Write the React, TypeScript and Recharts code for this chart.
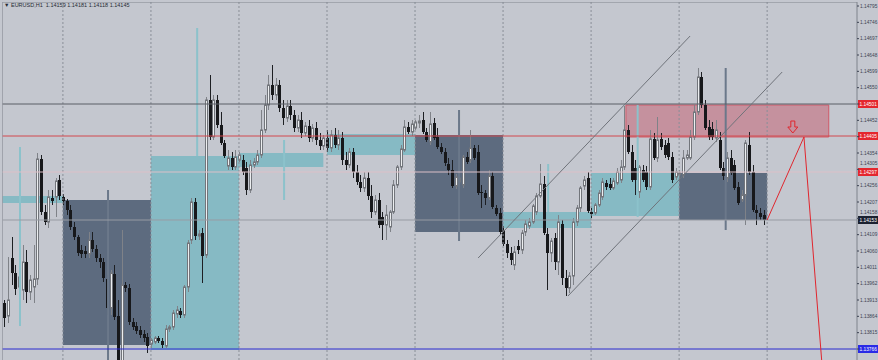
import React from 'react';
import { ComposedChart, Bar, XAxis, YAxis, ReferenceArea, ReferenceLine, ReferenceDot } from 'recharts';

const opens = [
1.13904,1.13865,1.14039,1.13994,1.13952,1.13943,1.14027,1.13937,1.13952,1.13976,
1.14336,1.14177,1.14147,1.14219,1.14222,1.14273,1.14222,1.14210,1.14183,1.14132,
1.14102,1.14063,1.14060,1.14051,1.14093,1.14066,1.14039,1.14027,1.13976,1.13889,
1.13991,1.13865,1.13718,1.13958,1.13949,1.13847,1.13835,1.13823,1.13811,1.13802,
1.13781,1.13787,1.13799,1.13790,1.13775,1.13826,1.13832,1.13871,1.13880,1.13868,
1.13952,1.14093,1.14207,1.14105,1.14114,1.14048,1.14513,1.14402,1.14513,1.14438,
1.14384,1.14315,1.14339,1.14312,1.14333,1.14333,1.14309,1.14243,1.14318,1.14327,
1.14348,1.14423,1.14498,1.14558,1.14528,1.14558,1.14489,1.14459,1.14495,1.14468,
1.14429,1.14453,1.14414,1.14435,1.14399,1.14429,1.14393,1.14375,1.14399,1.14369,
1.14408,1.14378,1.14399,1.14333,1.14318,1.14357,1.14297,1.14267,1.14249,1.14279,
1.14225,1.14177,1.14213,1.14162,1.14138,1.14132,1.14177,1.14258,1.14312,1.14363,
1.14432,1.14417,1.14429,1.14444,1.14453,1.14417,1.14387,1.14444,1.14402,1.14372,
1.14357,1.14321,1.14303,1.14255,1.14267,1.14258,1.14342,1.14333,1.14369,1.14357,
1.14237,1.14234,1.14219,1.14285,1.14189,1.14174,1.14123,1.14081,1.14054,1.14018,
1.14075,1.14063,1.14117,1.14135,1.14147,1.14177,1.14225,1.14261,1.14111,1.14054,
1.14099,1.14027,1.14141,1.13979,1.13949,1.13985,1.14147,1.14189,1.14255,1.14279,
1.14177,1.14174,1.14198,1.14222,1.14264,1.14261,1.14249,1.14264,1.14273,1.14312,
1.14423,1.14357,1.14309,1.14237,1.14303,1.14297,1.14252,1.14396,1.14339,1.14396,
1.14378,1.14384,1.14342,1.14282,1.14288,1.14288,1.14339,1.14339,1.14402,1.14477,
1.14582,1.14498,1.14432,1.14426,1.14399,1.14393,1.14309,1.14279,1.14339,1.14318,
1.14252,1.14213,1.14228,1.14378,1.14297,1.14183,1.14174,1.14168];

const highs = [
1.13913,1.14042,1.14102,1.14018,1.14003,1.14078,1.14063,1.13988,1.14078,1.14354,
1.14348,1.14198,1.14243,1.14243,1.14279,1.14288,1.14231,1.14216,1.14198,1.14147,
1.14108,1.14078,1.14075,1.14117,1.14117,1.14078,1.14051,1.14039,1.13988,1.14003,
1.14018,1.13913,1.14123,1.13967,1.13961,1.13859,1.13847,1.13835,1.13823,1.13814,
1.13799,1.13805,1.13805,1.13799,1.13838,1.13838,1.13883,1.13895,1.13889,1.13958,
1.14093,1.14219,1.14219,1.14123,1.14129,1.14522,1.14588,1.14528,1.14528,1.14477,
1.14393,1.14363,1.14357,1.14363,1.14357,1.14348,1.14327,1.14333,1.14339,1.14363,
1.14483,1.14528,1.14588,1.14618,1.14579,1.14573,1.14513,1.14513,1.14513,1.14483,
1.14468,1.14477,1.14447,1.14453,1.14441,1.14447,1.14414,1.14408,1.14423,1.14423,
1.14429,1.14423,1.14417,1.14357,1.14369,1.14369,1.14318,1.14288,1.14297,1.14297,
1.14258,1.14228,1.14234,1.14177,1.14198,1.14183,1.14273,1.14318,1.14378,1.14453,
1.14447,1.14453,1.14453,1.14468,1.14477,1.14429,1.14477,1.14459,1.14429,1.14384,
1.14369,1.14339,1.14333,1.14291,1.14285,1.14348,1.14357,1.14423,1.14378,1.14378,
1.14258,1.14243,1.14303,1.14297,1.14198,1.14189,1.14135,1.14093,1.14072,1.14075,
1.14093,1.14123,1.14153,1.14159,1.14201,1.14234,1.14321,1.14285,1.14129,1.14099,
1.14114,1.14168,1.14153,1.14003,1.13997,1.14159,1.14198,1.14255,1.14285,1.14297,
1.14189,1.14204,1.14243,1.14279,1.14273,1.14279,1.14279,1.14309,1.14333,1.14495,
1.14438,1.14378,1.14333,1.14318,1.14318,1.14315,1.14423,1.14414,1.14462,1.14414,
1.14393,1.14399,1.14357,1.14309,1.14303,1.14363,1.14363,1.14423,1.14498,1.14609,
1.14597,1.14513,1.14453,1.14447,1.14453,1.14417,1.14327,1.14357,1.14363,1.14333,
1.14267,1.14243,1.14393,1.14417,1.14318,1.14198,1.14189,1.14183];

const lows = [
1.13832,1.13844,1.13958,1.13928,1.13838,1.13913,1.13904,1.13913,1.13904,1.13958,
1.14168,1.14138,1.14129,1.14198,1.14162,1.14213,1.14198,1.14168,1.14123,1.14093,
1.14045,1.14039,1.14039,1.14039,1.14057,1.14027,1.14009,1.13967,1.13868,1.13868,
1.13853,1.13703,1.13697,1.13937,1.13838,1.13823,1.13811,1.13799,1.13787,1.13754,
1.13769,1.13781,1.13784,1.13769,1.13769,1.13817,1.13823,1.13859,1.13859,1.13859,
1.13937,1.14081,1.14093,1.14093,1.13964,1.14039,1.14393,1.14393,1.14429,1.14378,
1.14339,1.14303,1.14303,1.14303,1.14327,1.14288,1.14228,1.14234,1.14309,1.14318,
1.14339,1.14414,1.14483,1.14513,1.14513,1.14477,1.14438,1.14447,1.14453,1.14417,
1.14417,1.14399,1.14405,1.14387,1.14387,1.14378,1.14363,1.14363,1.14357,1.14357,
1.14369,1.14363,1.14318,1.14303,1.14309,1.14279,1.14258,1.14237,1.14237,1.14213,
1.14159,1.14168,1.14129,1.14093,1.14093,1.14117,1.14171,1.14249,1.14303,1.14357,
1.14411,1.14405,1.14423,1.14429,1.14411,1.14387,1.14378,1.14393,1.14366,1.14351,
1.14315,1.14288,1.14249,1.14246,1.14252,1.14249,1.14321,1.14324,1.14333,1.14228,
1.14189,1.14198,1.14213,1.14186,1.14165,1.14111,1.14075,1.14039,1.14018,1.14003,
1.14051,1.14051,1.14105,1.14126,1.14141,1.14168,1.14219,1.14108,1.13943,1.14027,
1.14003,1.13988,1.13958,1.13925,1.13934,1.13958,1.14135,1.14177,1.14243,1.14174,
1.14159,1.14168,1.14192,1.14213,1.14243,1.14243,1.14243,1.14258,1.14264,1.14303,
1.14351,1.14267,1.14228,1.14219,1.14267,1.14243,1.14243,1.14333,1.14327,1.14363,
1.14339,1.14333,1.14264,1.14273,1.14279,1.14279,1.14333,1.14333,1.14393,1.14468,
1.14489,1.14423,1.14393,1.14393,1.14387,1.14303,1.14273,1.14267,1.14288,1.14243,
1.14198,1.14207,1.14138,1.14288,1.14177,1.14138,1.14153,1.14138];

const closes = [
1.13859,1.13913,1.13994,1.13946,1.13982,1.14027,1.13937,1.13973,1.13976,1.14336,
1.14177,1.14147,1.14222,1.14210,1.14270,1.14225,1.14210,1.14183,1.14132,1.14102,
1.14054,1.14051,1.14051,1.14093,1.14066,1.14039,1.14027,1.13979,1.13889,1.13994,
1.13862,1.13718,1.13958,1.13949,1.13847,1.13832,1.13820,1.13808,1.13799,1.13775,
1.13793,1.13799,1.13790,1.13778,1.13826,1.13832,1.13874,1.13883,1.13868,1.13952,
1.14084,1.14207,1.14105,1.14111,1.14045,1.14513,1.14402,1.14513,1.14438,1.14384,
1.14345,1.14339,1.14312,1.14342,1.14348,1.14297,1.14243,1.14318,1.14327,1.14348,
1.14423,1.14498,1.14558,1.14528,1.14558,1.14489,1.14459,1.14495,1.14468,1.14429,
1.14453,1.14414,1.14435,1.14399,1.14429,1.14393,1.14375,1.14399,1.14369,1.14408,
1.14378,1.14399,1.14333,1.14318,1.14357,1.14297,1.14267,1.14249,1.14279,1.14225,
1.14177,1.14213,1.14138,1.14138,1.14168,1.14177,1.14258,1.14312,1.14366,1.14432,
1.14417,1.14441,1.14447,1.14450,1.14417,1.14393,1.14441,1.14399,1.14372,1.14357,
1.14324,1.14303,1.14255,1.14282,1.14279,1.14342,1.14327,1.14369,1.14339,1.14234,
1.14234,1.14219,1.14285,1.14192,1.14171,1.14117,1.14081,1.14054,1.14033,1.14057,
1.14063,1.14114,1.14141,1.14147,1.14195,1.14225,1.14261,1.14114,1.14054,1.14090,
1.14027,1.14147,1.13979,1.13949,1.13985,1.14147,1.14189,1.14249,1.14273,1.14180,
1.14171,1.14198,1.14234,1.14267,1.14252,1.14249,1.14270,1.14297,1.14312,1.14423,
1.14357,1.14273,1.14273,1.14312,1.14273,1.14252,1.14396,1.14339,1.14393,1.14372,
1.14348,1.14342,1.14273,1.14297,1.14294,1.14339,1.14348,1.14402,1.14477,1.14582,
1.14498,1.14429,1.14402,1.14402,1.14423,1.14309,1.14285,1.14339,1.14294,1.14249,
1.14204,1.14228,1.14384,1.14297,1.14183,1.14174,1.14162,1.14153];

const SLOTS = 233;
const priceTicks = [
1.14795,1.14746,1.14697,1.14648,1.14599,1.14550,1.14501,1.14452,1.14403,1.14354,1.14305,
1.14256,1.14207,1.14158,1.14109,1.14060,1.14011,1.13962,1.13913,1.13864,1.13815,1.13766];
const priceMin = 1.13673;
const priceMax = 1.14807;
const daySeparators = [16, 40, 64, 88, 112, 136, 160, 184, 208];

// zones: [barFrom, barTo, priceLow, priceHigh]
const darkZones = [
  [16, 40, 1.13778, 1.14213],
  [112, 136, 1.14117, 1.14408],
  [184, 208, 1.14153, 1.14294],
];
const tealZones = [
  [-0.5, 16, 1.14204, 1.14225],
  [40, 64, 1.13763, 1.14345],
  [64, 87, 1.14312, 1.14354],
  [88, 112, 1.14348, 1.14411],
  [136, 160, 1.14129, 1.14177],
  [160, 184, 1.14165, 1.14294],
];
const sellZone = [169.5, 224.8, 1.14402, 1.14498];
// vertical markers: [bar, priceFrom, priceTo]
const tealMarkers = [
  [4.3, 1.14372, 1.13835],
  [52.6, 1.14729, 1.14345],
  [76.3, 1.14393, 1.14213],
  [148.3, 1.14321, 1.14177],
  [172.7, 1.14498, 1.14162],
];
const darkMarkers = [
  [28.3, 1.14243, 1.13673],
  [124.0, 1.14483, 1.14090],
  [196.7, 1.14609, 1.14123],
];
const channelUpper = [[129.2, 1.14039], [187.0, 1.14705]];
const channelLower = [[153.7, 1.13925], [212.1, 1.14597]];
const projection = [[208, 1.14153], [218.04, 1.14402], [223.3, 1.13673]];
const arrowPoint = [215, 1.14432];
const levelPrices = [1.14501, 1.14405, 1.14297, 1.14153, 1.13766];
const levelLineColors = ['#5b5f67', '#d2484e', '#dcc0c8', '#979ba3', '#2b2bd0'];
const levelBoxColors = ['#e4262e', '#e4262e', '#e4262e', '#1b2130', '#2a2ae6'];
const titleText = '▼ EURUSD,H1  1.14159 1.14181 1.14118 1.14145';

const data = Array.from({ length: SLOTS }, (_, i) => ({
  i,
  o: opens[i],
  h: highs[i],
  l: lows[i],
  c: closes[i],
}));

const Candle = (props: any) => {
  const { x, y, width, height, payload } = props;
  if (!payload || payload.h == null) return null;
  const top = Math.min(y, y + height);
  const bot = Math.max(y, y + height);
  const span = payload.h - payload.l;
  const py = (v: number) => (span > 0 ? top + ((payload.h - v) / span) * (bot - top) : top);
  const ci = Math.round(x + width / 2);
  const bull = payload.c > payload.o;
  const yo = py(payload.o);
  const yc = py(payload.c);
  const bTop = Math.min(yo, yc);
  const bH = Math.max(1, Math.abs(yo - yc));
  return (
    <g>
      <line x1={ci + 0.5} x2={ci + 0.5} y1={top} y2={bot} stroke={bull ? '#7f8288' : '#1d1f23'} strokeWidth={1} />
      {bull ? (
        <rect x={ci - 0.5} y={bTop} width={2} height={bH} fill="#eceef0" stroke="#72757b" strokeWidth={1} />
      ) : (
        <rect x={ci - 1} y={bTop} width={3} height={bH} fill="#17181b" />
      )}
    </g>
  );
};

const PriceTick = (props: any) => {
  const { x, y, payload } = props;
  const v: number = payload.value;
  let dy = 0;
  for (const lv of levelPrices) {
    const diff = Math.abs(v - lv);
    if (diff < 0.00002) return null;
    if (diff < 0.00018) dy = -6;
  }
  return (
    <text x={x} y={y + dy + 1.8} fontSize={4.8} fill="#3d4352" fontFamily="Liberation Sans, Arial, sans-serif" textAnchor="start">
      {v.toFixed(5)}
    </text>
  );
};

const makeBoxLabel = (price: number, color: string) => (props: any) => {
  const vb = props.viewBox || {};
  const right = (vb.x ?? 0) + (vb.width ?? 0);
  const yy = vb.y ?? 0;
  return (
    <g>
      <rect x={right + 1} y={yy - 4} width={21} height={8} fill={color} />
      <text x={right + 2.5} y={yy + 2} fontSize={4.8} fill="#ffffff" fontFamily="Liberation Sans, Arial, sans-serif">
        {price.toFixed(5)}
      </text>
    </g>
  );
};

const DownArrow = (props: any) => {
  const { cx, cy } = props;
  if (cx == null || cy == null) return null;
  const d = `M ${cx - 2} ${cy - 6} L ${cx + 2} ${cy - 6} L ${cx + 2} ${cy} L ${cx + 5} ${cy} L ${cx} ${cy + 6} L ${cx - 5} ${cy} L ${cx - 2} ${cy} Z`;
  return <path d={d} fill="none" stroke="#e0262e" strokeWidth={1} />;
};

export default function App() {
  return (
    <div
      style={{
        position: 'absolute',
        left: 0,
        top: 0,
        width: 878,
        height: 360,
        overflow: 'hidden',
        background: '#c4c7cf',
      }}
    >
      <ComposedChart
        width={878}
        height={400}
        data={data}
        margin={{ top: 2, right: 0, bottom: 20, left: 2.4 }}
        barCategoryGap={0}
        barGap={0}
      >
        <XAxis xAxisId="c" dataKey="i" type="category" hide />
        <XAxis xAxisId="n" dataKey="i" type="number" domain={[-0.5, SLOTS - 0.5]} allowDataOverflow hide />
        <YAxis
          orientation="right"
          width={21}
          type="number"
          domain={[priceMin, priceMax]}
          allowDataOverflow
          ticks={priceTicks}
          interval={0}
          tick={<PriceTick />}
          tickSize={2}
          tickMargin={1}
          tickLine={{ stroke: '#3d4352' }}
          axisLine={{ stroke: '#7e838c' }}
        />
        {daySeparators.map((d) => (
          <ReferenceLine key={'sep' + d} xAxisId="n" x={d} stroke="#8a8f98" strokeDasharray="2 2" ifOverflow="hidden" />
        ))}
        <ReferenceLine xAxisId="n" y={priceMax} stroke="#80858e" ifOverflow="hidden" />
        <ReferenceLine xAxisId="n" x={-0.5} stroke="#80858e" ifOverflow="hidden" />
        {tealZones.map((z, k) => (
          <ReferenceArea key={'tz' + k} xAxisId="n" x1={z[0]} x2={z[1]} y1={z[2]} y2={z[3]} fill="#86bac4" fillOpacity={1} stroke="none" ifOverflow="hidden" />
        ))}
        {darkZones.map((z, k) => (
          <ReferenceArea key={'dz' + k} xAxisId="n" x1={z[0]} x2={z[1]} y1={z[2]} y2={z[3]} fill="#5d6b7f" fillOpacity={1} stroke="none" ifOverflow="hidden" />
        ))}
        <ReferenceArea xAxisId="n" x1={sellZone[0]} x2={sellZone[1]} y1={sellZone[2]} y2={sellZone[3]} fill="#c5919e" fillOpacity={1} stroke="#cf5a68" strokeWidth={1} ifOverflow="hidden" />
        {tealMarkers.map((m, k) => (
          <ReferenceLine key={'tm' + k} xAxisId="n" segment={[{ x: m[0], y: m[1] }, { x: m[0], y: m[2] }]} stroke="#8cc2cb" strokeWidth={2} ifOverflow="hidden" />
        ))}
        {darkMarkers.map((m, k) => (
          <ReferenceLine key={'dm' + k} xAxisId="n" segment={[{ x: m[0], y: m[1] }, { x: m[0], y: m[2] }]} stroke="#6b788a" strokeWidth={2} ifOverflow="hidden" />
        ))}
        {levelPrices.map((p, k) => (
          <ReferenceLine
            key={'lv' + k}
            xAxisId="n"
            y={p}
            stroke={levelLineColors[k]}
            strokeWidth={1}
            ifOverflow="hidden"
            label={makeBoxLabel(p, levelBoxColors[k])}
          />
        ))}
        <ReferenceLine xAxisId="n" segment={[{ x: channelUpper[0][0], y: channelUpper[0][1] }, { x: channelUpper[1][0], y: channelUpper[1][1] }]} stroke="#6f737a" strokeWidth={1} ifOverflow="hidden" />
        <ReferenceLine xAxisId="n" segment={[{ x: channelLower[0][0], y: channelLower[0][1] }, { x: channelLower[1][0], y: channelLower[1][1] }]} stroke="#6f737a" strokeWidth={1} ifOverflow="hidden" />
        <Bar
          xAxisId="c"
          dataKey={(d: any) => (d.h == null ? null : [d.l, d.h])}
          shape={Candle}
          isAnimationActive={false}
        />
        <ReferenceLine xAxisId="n" segment={[{ x: projection[0][0], y: projection[0][1] }, { x: projection[1][0], y: projection[1][1] }]} stroke="#e0262e" strokeWidth={1} ifOverflow="hidden" />
        <ReferenceLine xAxisId="n" segment={[{ x: projection[1][0], y: projection[1][1] }, { x: projection[2][0], y: projection[2][1] }]} stroke="#e0262e" strokeWidth={1} ifOverflow="hidden" />
        <ReferenceDot xAxisId="n" x={arrowPoint[0]} y={arrowPoint[1]} r={6} shape={DownArrow} ifOverflow="hidden" />
      </ComposedChart>
      <div
        style={{
          position: 'absolute',
          left: 4,
          top: 2,
          fontSize: 5.5,
          color: '#262a33',
          fontFamily: 'Liberation Sans, Arial, sans-serif',
          whiteSpace: 'pre',
          lineHeight: '7px',
        }}
      >
        {titleText}
      </div>
    </div>
  );
}
